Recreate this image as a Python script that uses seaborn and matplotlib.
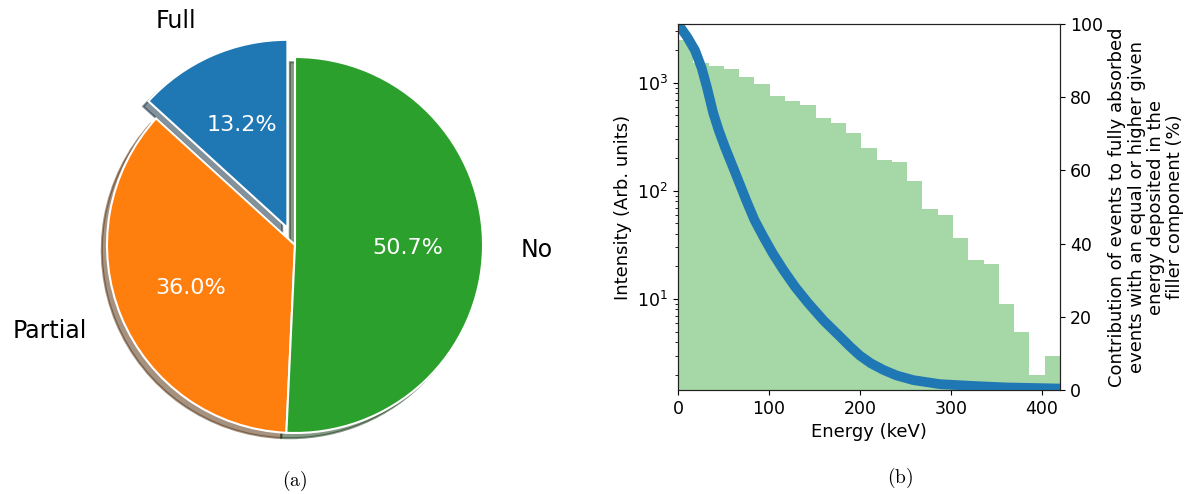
import numpy as np
import pandas as pd
import matplotlib
matplotlib.use("Agg")
import matplotlib.pyplot as plt
import seaborn as sns

sns.set_style("ticks", {"text.color": "black", "axes.labelcolor": "black",
                        "xtick.color": "black", "ytick.color": "black",
                        "axes.edgecolor": "#222222"})
plt.rcParams["font.family"] = ["DejaVu Sans"]
plt.rcParams["mathtext.fontset"] = "dejavusans"

# ---------------- data ----------------
pie_labels = ["Full", "Partial", "No"]
pie_shares = [13.24, 36.03, 50.73]
pie_colors = ["#1f77b4", "#ff7f0e", "#2ca02c"]

bin_edges = [i * 16.8 for i in range(26)]
bin_counts = [2500, 1531, 1445, 1347, 1127, 985, 751, 675, 619, 472, 427, 342,
              248, 193, 184, 123, 68, 60, 37, 23, 21, 9, 5, 2, 3]

energy_kev = [0, 10, 18.7, 26, 32, 38.8, 45, 51.7, 62.7, 75.5, 84, 93.8, 104,
              115.8, 129, 143.3, 160, 178.1, 189, 200, 212, 225.7, 240, 258.7,
              288, 324.7, 361, 420]
contribution = [100, 96.5, 92.8, 88, 82.5, 75.6, 70.8, 66.3, 59.5, 51.5, 46.5,
                41.9, 37.4, 32.8, 28.1, 23.7, 19, 14.6, 11.9, 9.4, 7.3, 5.5,
                4.0, 2.7, 1.6, 1.1, 0.7, 0.4]

x_ticks = [0, 100, 200, 300, 400]
pct_ticks = [0, 20, 40, 60, 80, 100]

W, H = 1198, 494
fig = plt.figure(figsize=(W / 100, H / 100), dpi=100)

# ---------------- (a) pie ----------------
ax1 = fig.add_axes([0, (H - 480) / H, 590 / W, 470 / H])
wedges, texts, autotexts = ax1.pie(
    pie_shares, labels=pie_labels, colors=pie_colors, explode=(0.1, 0, 0),
    startangle=90, shadow=True, autopct="%1.1f%%", pctdistance=0.6,
    labeldistance=1.2, wedgeprops=dict(edgecolor="white", linewidth=1.5),
    textprops=dict(fontsize=17))
for t in autotexts:
    t.set_color("white")
    t.set_fontsize(16)
ax1.set_aspect("equal")
ax1.set_ylim(-1.25, 1.25)
ax1.set_xlim(-590 / 470 * 1.25, 590 / 470 * 1.25)

# ---------------- (b) histogram + curve ----------------
ax = fig.add_axes([678 / W, (H - 390) / H, (1060 - 678) / W, (390 - 24) / H])
centers = [(bin_edges[i] + bin_edges[i + 1]) / 2 for i in range(len(bin_counts))]
hist_df = pd.DataFrame({"energy": centers, "count": bin_counts})
sns.histplot(data=hist_df, x="energy", weights="count", bins=bin_edges,
             color="#2ca02c", alpha=0.42, linewidth=0, ax=ax)
ax.set_yscale("log")
ax.set_ylim(1.44, 3500)
ax.set_xlim(0, 420)
ax.set_xticks(x_ticks)
ax.set_xlabel("Energy (keV)", fontsize=13)
ax.set_ylabel("Intensity (Arb. units)", fontsize=13)
ax.tick_params(labelsize=12.5)

ax2 = ax.twinx()
curve_df = pd.DataFrame({"energy": energy_kev, "contribution": contribution})
sns.lineplot(data=curve_df, x="energy", y="contribution", color="#1f77b4",
             linewidth=7, sort=False, estimator=None, ax=ax2,
             solid_capstyle="butt", solid_joinstyle="round")
ax2.set_ylim(0, 100)
ax2.set_xlim(0, 420)
ax2.set_yticks(pct_ticks)
ax2.tick_params(labelsize=12.5)
ax2.set_xlabel("")
ax2.set_ylabel("Contribution of events to fully absorbed\n"
               "events with an equal or higher given\n"
               "energy deposited in the\n"
               "filler component (%)", fontsize=13, linespacing=1.1)
for a in (ax, ax2):
    for s in a.spines.values():
        s.set_visible(True)
        s.set_color("#222222")

# ---------------- captions ----------------
fig.text(295 / W, 1 - 481 / H, r"$\mathrm{(a)}$", ha="center", va="center",
         fontsize=14, math_fontfamily="cm")
fig.text(900 / W, 1 - 478 / H, r"$\mathrm{(b)}$", ha="center", va="center",
         fontsize=14, math_fontfamily="cm")

fig.savefig("out.png", dpi=100)
